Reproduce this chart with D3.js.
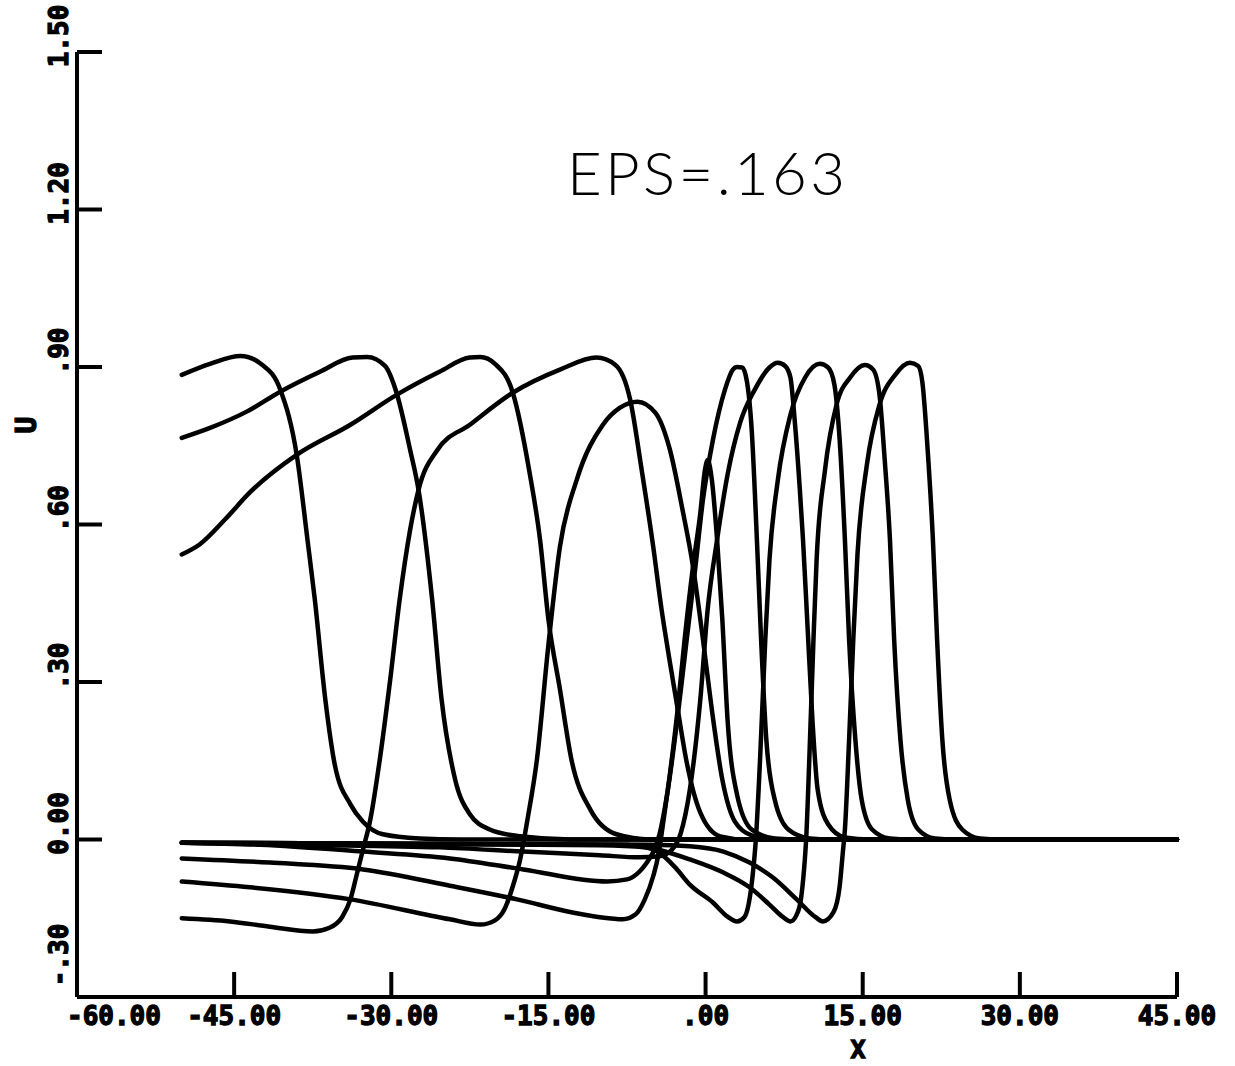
<!DOCTYPE html>
<html>
  <head>
    <meta charset="utf-8">
    <title>EPS=.163 wave profiles</title>
    <style type="text/css">
    body { margin: 0; background: #fff; }
    .tick-label { font-family: "DejaVu Sans Mono", monospace; font-weight: bold; font-size: 26px; fill: #000; stroke: #000; stroke-width: 1.3px; }
    .title { font-family: "Lato", "DejaVu Sans", sans-serif; font-weight: 300; font-size: 60px; fill: #000; }
    </style>
  </head>
  <body>
    <div id="chart"></div>
    <script src="https://cdn.jsdelivr.net/npm/d3@7"></script>
    <script>

    // tick values on both axes
    var xTicks = [-60, -45, -30, -15, 0, 15, 30, 45];
    var xTickLabels = ["-60.00", "-45.00", "-30.00", "-15.00", ".00", "15.00", "30.00", "45.00"];
    var uTicks = [-0.3, 0, 0.3, 0.6, 0.9, 1.2, 1.5];
    var uTickLabels = ["-.30", "0.00", ".30", ".60", ".90", "1.20", "1.50"];

    // profiles u(x) as [x, u]
    var curveA = [[-50,0.885],[-47.3,0.906],[-44.4,0.921],[-42.3,0.904],[-40.6,0.857],[-39.0,0.729],
      [-38.0,0.571],[-37.3,0.457],[-36.3,0.267],[-35.4,0.143],[-33.9,0.067],[-32.7,0.034],[-30.8,0.010],
      [-27.3,0.002],[-23.4,0],[45,0]];
    var curveB = [[-50,0.765],[-47.3,0.784],[-43.8,0.815],[-40.6,0.853],[-36.8,0.891],[-33.7,0.918],
      [-32.3,0.919],[-30.6,0.902],[-29.5,0.851],[-28.2,0.742],[-27.4,0.666],[-26.1,0.457],[-25.2,0.267],
      [-23.9,0.114],[-22.5,0.048],[-20.6,0.019],[-17.7,0.006],[-12.9,0],[45,0]];
    var curveC = [[-50,0.543],[-48.3,0.562],[-45.9,0.609],[-43.5,0.661],[-39.0,0.733],[-33.9,0.790],
      [-29.5,0.847],[-25.4,0.891],[-22.5,0.918],[-21.5,0.919],[-20.1,0.906],[-18.4,0.851],[-16.8,0.699],
      [-15.8,0.571],[-15.0,0.419],[-13.9,0.286],[-12.8,0.152],[-11.0,0.057],[-8.5,0.010],[-5.3,0],[45,0]];
    var curveD = [[-50,-0.150],[-45.4,-0.156],[-41.6,-0.166],[-37.5,-0.175],[-35.9,-0.168],[-34.7,-0.148],
      [-33.9,-0.114],[-33.3,-0.067],[-32.7,-0.019],[-32.0,0.038],[-31.1,0.152],[-30.1,0.305],[-29.2,0.457],
      [-28.2,0.590],[-27.4,0.666],[-25.6,0.742],[-22.5,0.790],[-18.4,0.851],[-13.9,0.895],[-10.4,0.918],
      [-8.6,0.904],[-7.2,0.838],[-6.1,0.704],[-5.0,0.558],[-4.2,0.438],[-3.4,0.337],[-2.7,0.253],
      [-1.8,0.147],[-0.5,0.051],[1.4,0.006],[3.8,0],[45,0]];
    var curveE = [[-50,-0.080],[-43.5,-0.091],[-33.9,-0.114],[-24.4,-0.152],[-21.5,-0.162],[-20.1,-0.154],
      [-19.2,-0.133],[-18.4,-0.089],[-17.7,-0.038],[-17.0,0.038],[-16.1,0.152],[-15.0,0.371],[-13.9,0.558],
      [-12.3,0.685],[-9.8,0.790],[-8.2,0.822],[-6.5,0.834],[-4.8,0.813],[-3.4,0.742],[-2.2,0.628],
      [-1.2,0.520],[-0.25,0.381],[0.6,0.247],[1.6,0.114],[2.8,0.034],[4.4,0.008],[7.1,0],[45,0]];
    var curveSpike = [[-50,-0.036],[-41.6,-0.044],[-32.7,-0.057],[-24.4,-0.088],[-18.0,-0.114],[-12.7,-0.139],
      [-10.1,-0.148],[-7.9,-0.152],[-6.7,-0.143],[-5.8,-0.114],[-5.0,-0.070],[-4.5,-0.029],[-4.2,0.010],
      [-3.6,0.095],[-2.7,0.242],[-2.0,0.381],[-1.2,0.520],[-0.5,0.622],[-0.06,0.704],[0.2,0.723],
      [0.6,0.685],[1.1,0.571],[1.6,0.419],[2.1,0.228],[3.0,0.086],[4.4,0.019],[6.6,0.002],[9.0,0],[45,0]];
    var curveF = [[-50,-0.006],[-42.5,-0.010],[-32.7,-0.023],[-24.4,-0.036],[-17.4,-0.057],[-9.4,-0.080],
      [-7.5,-0.076],[-6.3,-0.061],[-5.6,-0.044],[-4.8,-0.015],[-4.4,0.010],[-3.6,0.095],[-2.7,0.228],
      [-1.8,0.381],[-1.0,0.514],[-0.25,0.647],[0.7,0.761],[1.85,0.857],[2.6,0.895],[3.0,0.900],[3.5,0.899],
      [3.95,0.872],[4.4,0.781],[4.9,0.571],[5.3,0.381],[5.8,0.190],[6.6,0.076],[7.9,0.019],[9.97,0.002],
      [11.9,0],[45,0]];
    var curveG = [[-50,-0.006],[-38.7,-0.010],[-25.4,-0.015],[-17.4,-0.023],[-10.1,-0.030],[-6.3,-0.034],
      [-4.4,-0.032],[-3.2,-0.019],[-2.4,0.010],[-1.5,0.095],[-0.5,0.267],[0.2,0.438],[1.1,0.571],[2.1,0.695],
      [3.3,0.794],[4.7,0.857],[6.1,0.899],[6.9,0.908],[7.6,0.902],[8.1,0.880],[8.5,0.800],[9.0,0.666],
      [9.3,0.571],[9.7,0.419],[10.2,0.228],[10.7,0.095],[11.7,0.029],[13.3,0.004],[15.7,0],[45,0]];
    var curveH = [[-50,-0.006],[-29.2,-0.008],[-10.1,-0.011],[-5.8,-0.015],[-4.6,-0.023],[-2.9,-0.053],
      [-1.5,-0.086],[0.7,-0.120],[2.1,-0.147],[3.0,-0.156],[3.7,-0.148],[4.1,-0.124],[4.5,-0.067],[4.8,0],
      [5.2,0.152],[5.7,0.381],[6.1,0.533],[6.9,0.685],[8.1,0.809],[9.5,0.880],[10.9,0.906],[11.7,0.899],
      [12.3,0.866],[12.8,0.761],[13.3,0.571],[13.7,0.381],[14.3,0.190],[14.9,0.076],[15.9,0.019],
      [17.6,0.002],[19.5,0],[45,0]];
    var curveI = [[-50,-0.006],[-29.2,-0.008],[-8.2,-0.010],[-4.6,-0.019],[-1.5,-0.038],[1.7,-0.063],
      [4.2,-0.091],[6.1,-0.124],[7.4,-0.148],[8.1,-0.156],[8.7,-0.143],[9.1,-0.114],[9.4,-0.057],[9.6,0],
      [9.9,0.152],[10.3,0.381],[10.6,0.533],[11.4,0.704],[12.5,0.828],[13.8,0.880],[15.2,0.904],[16.0,0.895],
      [16.6,0.847],[17.1,0.723],[17.6,0.571],[18.0,0.381],[18.6,0.190],[19.3,0.076],[20.3,0.019],
      [21.9,0.002],[23.8,0],[45,0]];
    var curveJ = [[-50,-0.006],[-29.2,-0.008],[-5.3,-0.010],[-1.5,-0.013],[1.7,-0.023],[4.2,-0.044],
      [6.4,-0.072],[8.7,-0.114],[10.5,-0.148],[11.2,-0.156],[12.2,-0.139],[12.8,-0.089],[13.1,-0.025],
      [13.3,0.019],[13.7,0.190],[14.1,0.381],[14.5,0.543],[15.4,0.714],[16.6,0.828],[18.1,0.885],
      [19.5,0.908],[20.3,0.902],[20.7,0.870],[21.2,0.742],[21.7,0.571],[22.1,0.381],[22.6,0.190],
      [23.3,0.076],[24.5,0.019],[26.2,0.002],[28.1,0],[45,0]];

    var curves = [curveA, curveB, curveC, curveD, curveE, curveSpike, curveF, curveG, curveH, curveI, curveJ];

    var width = 1235,
        height = 1066;

    var x = d3.scaleLinear().domain([-60, 45]).range([77, 1177]);
    var y = d3.scaleLinear().domain([-0.3, 1.5]).range([997, 52]);

    var svg = d3.select("#chart")
      .append("svg")
      .attr("width", width)
      .attr("height", height);

    var line = d3.line()
      .x(function(d) { return x(d[0]); })
      .y(function(d) { return y(d[1]); })
      .curve(d3.curveMonotoneX);

    svg.selectAll("path.profile")
      .data(curves)
      .enter().append("path")
      .attr("class", "profile")
      .attr("d", line)
      .style("fill", "none")
      .style("stroke", "#000")
      .style("stroke-width", 4.5)
      .style("stroke-linejoin", "round")
      .style("stroke-linecap", "round");

    // axes, drawn plotter style: ticks pointing into the plot
    var axisColor = "#000";
    svg.append("line")
      .attr("x1", x(-60)).attr("x2", x(45))
      .attr("y1", y(-0.3)).attr("y2", y(-0.3))
      .style("stroke", axisColor).style("stroke-width", 4);
    svg.append("line")
      .attr("x1", x(-60)).attr("x2", x(-60))
      .attr("y1", y(-0.3)).attr("y2", y(1.5))
      .style("stroke", axisColor).style("stroke-width", 4);

    svg.selectAll("line.xtick")
      .data(xTicks.slice(1))
      .enter().append("line")
      .attr("class", "xtick")
      .attr("x1", function(d) { return x(d); }).attr("x2", function(d) { return x(d); })
      .attr("y1", y(-0.3)).attr("y2", y(-0.3) - 25)
      .style("stroke", axisColor).style("stroke-width", 4);

    svg.selectAll("line.utick")
      .data(uTicks.slice(1))
      .enter().append("line")
      .attr("class", "utick")
      .attr("x1", x(-60)).attr("x2", x(-60) + 25)
      .attr("y1", function(d) { return y(d); }).attr("y2", function(d) { return y(d); })
      .style("stroke", axisColor).style("stroke-width", 4);

    svg.selectAll("text.xlab")
      .data(xTicks)
      .enter().append("text")
      .attr("class", "tick-label")
      .attr("x", function(d, i) { return i == 0 ? x(d) - 10 : x(d); })
      .attr("y", 1025)
      .attr("text-anchor", function(d, i) { return i == 0 ? "start" : "middle"; })
      .text(function(d, i) { return xTickLabels[i]; });

    svg.selectAll("text.ulab")
      .data(uTicks)
      .enter().append("text")
      .attr("class", "tick-label")
      .attr("text-anchor", "middle")
      .attr("transform", function(d, i) {
        var cy = i == 0 ? y(d) - 42 : y(d) - 16;
        return "translate(68," + cy + ") rotate(-90)";
      })
      .text(function(d, i) { return uTickLabels[i]; });

    svg.append("text")
      .attr("class", "tick-label")
      .style("font-size", "25px")
      .attr("text-anchor", "middle")
      .attr("x", 858)
      .attr("y", 1058)
      .text("X");

    svg.append("text")
      .attr("class", "tick-label")
      .style("font-size", "28px")
      .attr("text-anchor", "middle")
      .attr("transform", "translate(36,425) rotate(-90)")
      .text("U");

    svg.append("text")
      .attr("class", "title")
      .attr("x", 567)
      .attr("y", 195)
      .attr("textLength", 278)
      .attr("lengthAdjust", "spacing")
      .text("EPS=.163");

    </script>
  </body>
</html>
